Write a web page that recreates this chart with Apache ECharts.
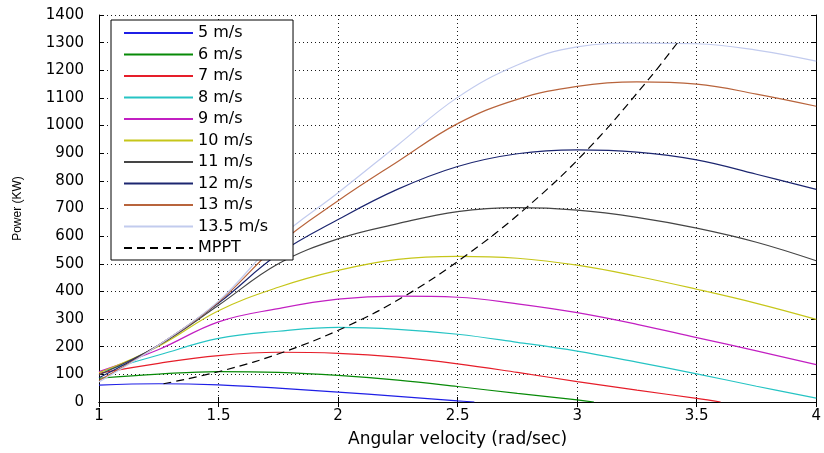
<!DOCTYPE html>
<html>
<head>
<meta charset="utf-8">
<script src="https://cdn.jsdelivr.net/npm/echarts@6/dist/echarts.min.js"></script>
<style>
  html, body { margin: 0; padding: 0; background: #fff; }
  #chart { width: 824px; height: 453px; }
</style>
</head>
<body>
<div id="chart"></div>
<script>
// Turbine power (KW) against rotor angular velocity (rad/sec), one curve per wind speed.
const speedNames = ['5 m/s', '6 m/s', '7 m/s', '8 m/s', '9 m/s', '10 m/s', '11 m/s', '12 m/s', '13 m/s', '13.5 m/s'];
const speedColors = ['#1f1fe6', '#078a07', '#e61e2a', '#26c4c4', '#c21fc2', '#c6c61a', '#454545', '#1c2670', '#b8643c', '#c2cbee'];

const p5  = [[1, 61], [1.25, 66], [1.5, 62], [1.75, 50], [2, 36], [2.25, 20], [2.5, 4], [2.57, 0]];
const p6  = [[1, 86], [1.25, 101], [1.5, 110], [1.75, 107], [2, 96], [2.25, 79], [2.5, 56], [2.75, 31], [3, 8], [3.07, 0]];
const p7  = [[1, 104], [1.25, 140], [1.5, 168], [1.75, 180], [2, 176], [2.25, 162], [2.5, 138], [2.75, 107], [3, 74], [3.25, 43], [3.5, 13], [3.6, 0]];
const p8  = [[1, 108], [1.25, 170], [1.5, 230], [1.75, 256], [2, 270], [2.25, 263], [2.5, 245], [2.75, 216], [3, 184], [3.25, 144], [3.5, 102], [3.75, 57], [4, 14]];
const p9  = [[1, 110], [1.25, 190], [1.5, 290], [1.75, 338], [2, 372], [2.25, 383], [2.5, 379], [2.75, 355], [3, 323], [3.25, 281], [3.5, 233], [3.75, 185], [4, 135]];
const p10 = [[1, 106], [1.25, 202], [1.5, 330], [1.75, 415], [2, 476], [2.25, 516], [2.5, 527], [2.75, 520], [3, 495], [3.25, 455], [3.5, 408], [3.75, 357], [4, 299]];
const p11 = [[1, 98], [1.25, 205], [1.5, 350], [1.75, 500], [2, 590], [2.25, 645], [2.5, 689], [2.75, 703], [3, 694], [3.25, 668], [3.5, 629], [3.75, 578], [4, 511]];
const p12 = [[1, 88], [1.25, 206], [1.5, 358], [1.75, 535], [2, 660], [2.25, 770], [2.5, 852], [2.75, 898], [3, 912], [3.25, 904], [3.5, 876], [3.75, 824], [4, 769]];
const p13 = [[1, 78], [1.25, 206], [1.5, 362], [1.75, 570], [2, 728], [2.25, 870], [2.5, 1007], [2.75, 1095], [3, 1142], [3.25, 1158], [3.5, 1150], [3.75, 1114], [4, 1070]];
const p135 = [[1, 72], [1.25, 206], [1.5, 365], [1.75, 590], [2, 757], [2.25, 930], [2.5, 1102], [2.75, 1219], [3, 1285], [3.25, 1298], [3.5, 1296], [3.75, 1273], [4, 1233]];

// Maximum power point of each curve, joined by the dashed tracking line
const mppt = [[1.27, 66], [1.52, 114], [1.77, 180], [2.03, 271], [2.28, 384], [2.53, 527], [2.79, 705], [3.04, 910], [3.29, 1158], [3.42, 1300]];

const curves = [p5, p6, p7, p8, p9, p10, p11, p12, p13, p135];

const FONT = 'DejaVu Sans';
const dotted = { show: true, lineStyle: { color: '#1a1a1a', width: 1, type: [1, 3] } };
const tickIn = { show: true, inside: true, length: 5, lineStyle: { color: '#000' } };
const frame = { show: true, lineStyle: { color: '#000', width: 1 } };
const plain = v => String(v);

const series = curves.map((d, i) => ({
  name: speedNames[i],
  type: 'line',
  data: d,
  smooth: 0.4,
  symbol: 'none',
  color: speedColors[i],
  lineStyle: { width: 1.2, color: speedColors[i] }
}));
series.push({
  name: 'MPPT',
  type: 'line',
  data: mppt,
  smooth: 0.4,
  symbol: 'none',
  color: '#000',
  lineStyle: { width: 1.2, color: '#000', type: [8, 5] },
  z: 3
});

const chart = echarts.init(document.getElementById('chart'), null, { renderer: 'canvas' });
chart.setOption({
  backgroundColor: '#fff',
  animation: false,
  grid: { left: 99, right: 1, top: 15, bottom: 46, containLabel: false },
  xAxis: [
    {
      type: 'value', min: 1, max: 4, interval: 0.5, position: 'bottom',
      name: 'Angular velocity (rad/sec)', nameLocation: 'middle', nameGap: 29,
      nameTextStyle: { fontFamily: FONT, fontSize: 17, color: '#000' },
      axisLine: frame, axisTick: tickIn, splitLine: dotted,
      axisLabel: { fontFamily: FONT, fontSize: 15, color: '#000', margin: 7, formatter: plain }
    },
    {
      type: 'value', min: 1, max: 4, interval: 0.5, position: 'top',
      axisLine: frame, axisTick: tickIn, splitLine: { show: false }, axisLabel: { show: false }
    }
  ],
  yAxis: [
    {
      type: 'value', min: 0, max: 1400, interval: 100, position: 'left',
      name: 'Power (KW)', nameLocation: 'middle', nameGap: 75, nameRotate: 90,
      nameTextStyle: { fontFamily: 'Liberation Sans', fontSize: 12, color: '#000' },
      axisLine: frame, axisTick: tickIn, splitLine: dotted,
      axisLabel: { fontFamily: FONT, fontSize: 15, color: '#000', margin: 15, formatter: plain }
    },
    {
      type: 'value', min: 0, max: 1400, interval: 100, position: 'right',
      axisLine: frame, axisTick: tickIn, splitLine: { show: false }, axisLabel: { show: false }
    }
  ],
  legend: {
    orient: 'vertical',
    left: 111, top: 20,
    padding: [5, 25, 4, 12],
    backgroundColor: '#fff',
    borderColor: '#000', borderWidth: 1,
    itemWidth: 69, itemHeight: 10, itemGap: 5.5,
    itemStyle: { opacity: 0 },
    textStyle: { fontFamily: FONT, fontSize: 16, color: '#000', lineHeight: 16 },
    data: speedNames.concat(['MPPT'])
  },
  series: series
});
</script>
</body>
</html>
